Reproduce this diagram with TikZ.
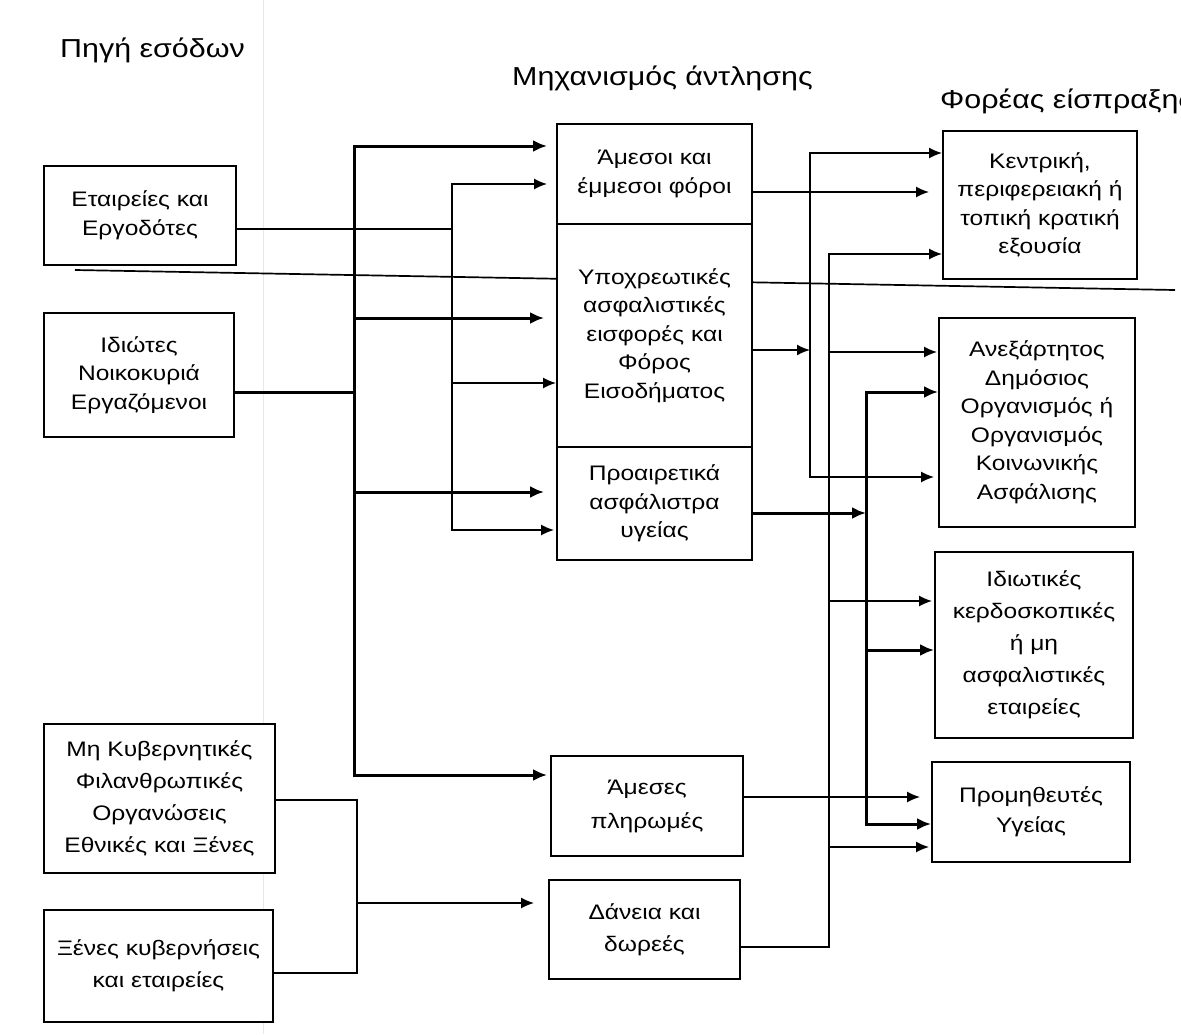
\documentclass[tikz,border=0pt]{standalone}
\usepackage{fontspec}
\setmainfont{Liberation Sans}[FakeStretch=1.17]
\usetikzlibrary{arrows.meta}
\begin{document}
\begin{tikzpicture}[x=1pt,y=-1pt,
  box/.style={draw,line width=1.8pt,fill=white,align=center,inner sep=0pt,font=\fontsize{21}{28.5}\selectfont},
  bs/.style={font=\fontsize{21}{#1}\selectfont},
  thinl/.style={line width=1.7pt},
  thkl/.style={line width=3pt},
  arr/.style={-{Latex[length=13pt,width=11pt]}},
  arrk/.style={-{Latex[length=14pt,width=12pt]}},
  title/.style={font=\fontsize{26}{30}\selectfont,anchor=west,inner sep=0pt}]
\useasboundingbox (0,0) rectangle (1181,1034);
% scan fold line and separator
\draw[gray!18,line width=1pt] (263,0) -- (263,1034);
\draw[thinl] (75,270) -- (1175,290);
% titles
\node[title] (t1) at (60,50) {Πηγή εσόδων};
\node[title] (t2) at (512,78) {Μηχανισμός άντλησης};
\node[title] (t3) at (940,101) {Φορέας είσπραξης};
% left boxes
\node[box,minimum width=192pt,minimum height=99pt] (A) at (140,215.5) {Εταιρείες και\\Εργοδότες};
\node[box,minimum width=190pt,minimum height=124pt] (B) at (139,375) {Ιδιώτες\\Νοικοκυριά\\Εργαζόμενοι};
\node[box,bs=32,minimum width=231pt,minimum height=149pt] (C) at (159.5,798.5) {Μη Κυβερνητικές\\Φιλανθρωπικές\\Οργανώσεις\\Εθνικές και Ξένες};
\node[box,bs=32,minimum width=229pt,minimum height=112pt] (D) at (158.5,966) {Ξένες κυβερνήσεις\\και εταιρείες};
% middle boxes
\node[box,minimum width=195pt,minimum height=100pt] (M1) at (654.5,174) {Άμεσοι και\\έμμεσοι φόροι};
\node[box,minimum width=195pt,minimum height=223pt] (M2) at (654.5,335.5) {Υποχρεωτικές\\ασφαλιστικές\\εισφορές και\\Φόρος\\Εισοδήματος};
\node[box,minimum width=195pt,minimum height=113pt] (M3) at (654.5,503.5) {Προαιρετικά\\ασφάλιστρα\\υγείας};
\node[box,bs=34,minimum width=192pt,minimum height=100pt] (M4) at (647,806) {Άμεσες\\πληρωμές};
\node[box,bs=32,minimum width=191pt,minimum height=99pt] (M5) at (644.5,929.5) {Δάνεια και\\δωρεές};
% right boxes
\node[box,minimum width=194pt,minimum height=148pt] (R1) at (1040,205) {Κεντρική,\\περιφερειακή ή\\τοπική κρατική\\εξουσία};
\node[box,minimum width=196pt,minimum height=209pt] (R2) at (1037,422.5) {Ανεξάρτητος\\Δημόσιος\\Οργανισμός ή\\Οργανισμός\\Κοινωνικής\\Ασφάλισης};
\node[box,bs=32,minimum width=198pt,minimum height=186pt] (R3) at (1034,645) {Ιδιωτικές\\κερδοσκοπικές\\ή μη\\ασφαλιστικές\\εταιρείες};
\node[box,bs=30,minimum width=198pt,minimum height=100pt] (R4) at (1031,812) {Προμηθευτές\\Υγείας};
% bus 1 (thick), fed by B
\coordinate (b1t) at (354,146);
\coordinate (b1b) at (354,775);
\coordinate (b1B) at (354,392);
\coordinate (b1M2) at (354,318);
\coordinate (b1M3) at (354,492);
\draw[thkl,arrk,shorten >=9pt] (b1b) -- (b1t) -- (M1.west |- b1t);
\draw[thkl,arrk,shorten >=3pt] (b1t) -- (b1b) -- (M4.west |- b1b);
\draw[thkl] (B.east |- b1B) -- (b1B);
\draw[thkl,arrk,shorten >=12pt] (b1M2) -- (M2.west |- b1M2);
\draw[thkl,arrk,shorten >=12pt] (b1M3) -- (M3.west |- b1M3);
% bus 2 (thin), fed by A
\coordinate (b2t) at (452,184);
\coordinate (b2b) at (452,530);
\coordinate (b2A) at (452,229);
\coordinate (b2M2) at (452,383);
\draw[thinl,arr,shorten >=9pt] (b2b) -- (b2t) -- (M1.west |- b2t);
\draw[thinl,arr,shorten >=2pt] (b2t) -- (b2b) -- (M3.west |- b2b);
\draw[thinl] (A.east |- b2A) -- (b2A);
\draw[thinl,arr] (b2M2) -- (M2.west |- b2M2);
% bus C/D
\coordinate (cdt) at (357,800);
\coordinate (cdb) at (357,973);
\coordinate (cdm) at (357,903);
\draw[thinl] (C.east |- cdt) -- (cdt) -- (cdb) -- (D.east |- cdb);
\draw[thinl,arr,shorten >=14pt] (cdm) -- (M5.west |- cdm);
% bus Ra, fed by M2
\coordinate (rat) at (810,153);
\coordinate (rab) at (810,477);
\coordinate (raM) at (810,350);
\draw[thinl,arr] (rab) -- (rat) -- (R1.west |- rat);
\draw[thinl,arr,shorten >=4pt] (rat) -- (rab) -- (R2.west |- rab);
\draw[thinl,arr] (M2.east |- raM) -- (raM);
% M1 -> R1
\coordinate (m1r) at (900,192);
\draw[thinl,arr,shorten >=13pt] (M1.east |- m1r) -- (R1.west |- m1r);
% bus Rb, fed by M5
\coordinate (rbt) at (829,254);
\coordinate (rbb) at (829,947);
\coordinate (rbR2) at (829,352);
\coordinate (rbR3) at (829,601);
\coordinate (rbR4) at (829,847);
\draw[thinl,arr] (M5.east |- rbb) -- (rbb) -- (rbt) -- (R1.west |- rbt);
\draw[thinl,arr,shorten >=1pt] (rbR2) -- (R2.west |- rbR2);
\draw[thinl,arr,shorten >=2pt] (rbR3) -- (R3.west |- rbR3);
\draw[thinl,arr,shorten >=2pt] (rbR4) -- (R4.west |- rbR4);
% bus Rc (thick), fed by M3
\coordinate (rct) at (866,392);
\coordinate (rcb) at (866,824);
\coordinate (rcR3) at (866,650);
\coordinate (rcM) at (866,513);
\draw[thkl,arrk] (rcb) -- (rct) -- (R2.west |- rct);
\draw[thkl,arrk] (rct) -- (rcb) -- (R4.west |- rcb);
\draw[thkl,arrk] (rcR3) -- (R3.west |- rcR3);
\draw[thkl,arrk] (M3.east |- rcM) -- (rcM);
% M4 -> R4
\coordinate (m4r) at (900,797);
\draw[thinl,arr,shorten >=11pt] (M4.east |- m4r) -- (R4.west |- m4r);
\end{tikzpicture}
\end{document}
